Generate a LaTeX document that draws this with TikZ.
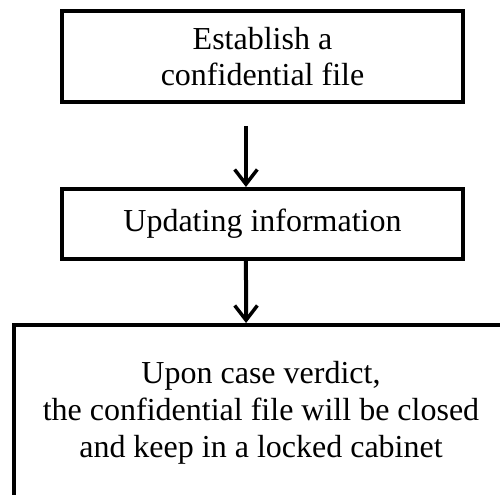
\documentclass[tikz,border=0pt]{standalone}
\usepackage{fontspec}
\setmainfont{Liberation Serif}
\usetikzlibrary{arrows.meta}
\begin{document}
\begin{tikzpicture}[x=0.75pt,y=-0.75pt,
  box/.style={draw=black,line width=3pt,align=center,inner sep=0pt,
    font=\fontsize{24}{27.6}\selectfont},
  arr/.style={line width=3pt,-{Straight Barb[length=11pt,width=17pt,line width=2.6pt]}}]
\useasboundingbox (0,0) rectangle (500,495);
\node[box,minimum width=301pt,minimum height=68.25pt] (top) at (262.5,56.5)
  {Establish a\\confidential file};
\node[box,minimum width=301pt,minimum height=52.5pt] (mid) at (262.5,224)
  {Updating information};
\node[box,minimum width=370.5pt,minimum height=132pt] (bot) at (261,413)
  {Upon case verdict,\\the confidential file will be closed\\and keep in a locked cabinet};
\draw[arr] ([xshift=-12.4pt,yshift=-16.5pt]top.south) -- ([xshift=-12.4pt]mid.north);
\draw[arr] ([xshift=-12.4pt]mid.south) -- ([xshift=-11.2pt]bot.north);
\end{tikzpicture}
\end{document}
